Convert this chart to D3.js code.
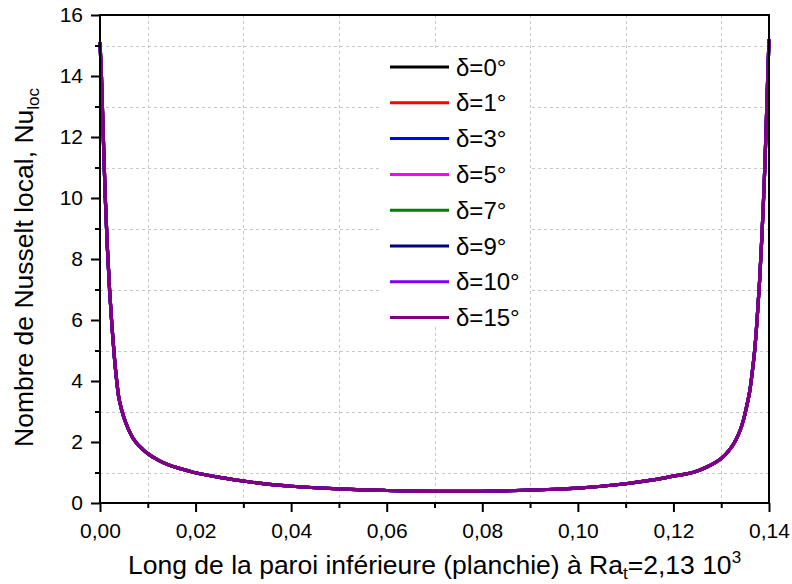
<!DOCTYPE html>
<html>
<head>
<meta charset="utf-8">
<script src="https://cdn.jsdelivr.net/npm/d3@7"></script>
<style>
  body { margin: 0; background: #fff; }
  svg { display: block; font-family: "Liberation Sans", Arial, sans-serif; }
</style>
</head>
<body>
<div id="chart"></div>
<script>
// Positions along the bottom wall (m) and local Nusselt
const xPos = [0, 0.0003, 0.0006, 0.001, 0.0015, 0.002, 0.0025, 0.003, 0.0035, 0.004,
    0.005, 0.006, 0.007, 0.008, 0.009, 0.010, 0.012, 0.014, 0.017, 0.020,
    0.025, 0.030, 0.035, 0.040, 0.045, 0.050, 0.055, 0.060, 0.065, 0.070,
    0.075, 0.080, 0.085, 0.090, 0.095, 0.100, 0.105, 0.110, 0.115, 0.120,
    0.124, 0.127, 0.130, 0.132, 0.133, 0.134, 0.1347, 0.1353, 0.136, 0.1365,
    0.137, 0.1375, 0.138, 0.1385, 0.139, 0.1394, 0.1397, 0.14];

// all eight curves sit on top of each other in the picture
const nuLoc = [15.1, 14.0, 12.5, 10.5, 8.5, 7.0, 5.8, 4.8, 4.0, 3.4,
    2.8, 2.4, 2.1, 1.9, 1.75, 1.62, 1.42, 1.27, 1.12, 0.99,
    0.84, 0.72, 0.62, 0.55, 0.50, 0.46, 0.43, 0.41, 0.39, 0.38,
    0.38, 0.385, 0.40, 0.42, 0.45, 0.49, 0.55, 0.63, 0.74, 0.88,
    1.0, 1.18, 1.46, 1.8, 2.05, 2.4, 2.75, 3.15, 3.7, 4.3,
    5.0, 6.0, 7.2, 8.7, 10.5, 12.3, 13.8, 15.2];

const seriesNames = ["δ=0°", "δ=1°", "δ=3°", "δ=5°", "δ=7°", "δ=9°", "δ=10°", "δ=15°"];
const seriesColors = ["#000000", "#ff0000", "#0000ff", "#ff00ff", "#008000", "#000080", "#8000ff", "#800080"];
const seriesValues = [nuLoc, nuLoc, nuLoc, nuLoc, nuLoc, nuLoc, nuLoc, nuLoc];

const xTicks = [0, 0.02, 0.04, 0.06, 0.08, 0.10, 0.12, 0.14];
const xMinor = [0.01, 0.03, 0.05, 0.07, 0.09, 0.11, 0.13];
const yTicks = [0, 2, 4, 6, 8, 10, 12, 14, 16];
const yMinor = [1, 3, 5, 7, 9, 11, 13, 15];

const svgWidth = 792;
const svgHeight = 584;
const margin = { top: 15, right: 23, bottom: 81, left: 100 };

const svg = d3.select("#chart").append("svg")
    .attr("width", svgWidth)
    .attr("height", svgHeight);

const x = d3.scaleLinear()
    .domain([0, 0.14])
    .range([margin.left, svgWidth - margin.right]);

const y = d3.scaleLinear()
    .domain([0, 16])
    .range([svgHeight - margin.bottom, margin.top]);

// dashed grid on the minor positions
const grid = svg.append("g")
    .attr("stroke", "#c8c8c8")
    .attr("stroke-width", 1)
    .attr("stroke-dasharray", "3,3");

grid.selectAll("line.vx")
    .data(xMinor)
    .join("line")
    .attr("class", "vx")
    .attr("x1", d => Math.round(x(d)) + 0.5)
    .attr("x2", d => Math.round(x(d)) + 0.5)
    .attr("y1", y(16))
    .attr("y2", y(0));

grid.selectAll("line.hy")
    .data(yMinor)
    .join("line")
    .attr("class", "hy")
    .attr("x1", x(0))
    .attr("x2", x(0.14))
    .attr("y1", d => Math.round(y(d)) + 0.5)
    .attr("y2", d => Math.round(y(d)) + 0.5);

// curves
const line = d3.line()
    .x((d, i) => x(xPos[i]))
    .y(d => y(d))
    .curve(d3.curveCatmullRom.alpha(0.5));

svg.append("g")
    .attr("fill", "none")
    .attr("stroke-width", 3.2)
    .attr("stroke-linejoin", "round")
    .selectAll("path")
    .data(seriesValues)
    .join("path")
    .attr("stroke", (d, i) => seriesColors[i])
    .attr("d", line);

// legend
const legend = svg.append("g");
legend.append("rect")
    .attr("x", 380)
    .attr("y", 48)
    .attr("width", 150)
    .attr("height", 276)
    .attr("fill", "white");

const rowY = i => 67 + i * 35.8;

legend.selectAll("line")
    .data(seriesNames)
    .join("line")
    .attr("x1", 390)
    .attr("x2", 449)
    .attr("y1", (d, i) => rowY(i))
    .attr("y2", (d, i) => rowY(i))
    .attr("stroke", (d, i) => seriesColors[i])
    .attr("stroke-width", 3);

legend.selectAll("text")
    .data(seriesNames)
    .join("text")
    .attr("x", 456)
    .attr("y", (d, i) => rowY(i))
    .attr("dy", "0.36em")
    .style("font-size", "24px")
    .text(d => d);

// axes
const fmt = d => d3.format(".2f")(d).replace(".", ",");

const xAxis = g => g
    .attr("transform", `translate(0,${y(0)})`)
    .call(d3.axisBottom(x).tickValues(xTicks).tickFormat(fmt).tickSize(9).tickPadding(11).tickSizeOuter(0))
    .call(g => g.select(".domain").remove());

const xAxisMinor = g => g
    .attr("transform", `translate(0,${y(0)})`)
    .call(d3.axisBottom(x).tickValues(xMinor).tickFormat("").tickSize(5).tickSizeOuter(0))
    .call(g => g.select(".domain").remove());

const yAxis = g => g
    .attr("transform", `translate(${x(0)},0)`)
    .call(d3.axisLeft(y).tickValues(yTicks).tickSize(9).tickPadding(8).tickSizeOuter(0))
    .call(g => g.select(".domain").remove());

const yAxisMinor = g => g
    .attr("transform", `translate(${x(0)},0)`)
    .call(d3.axisLeft(y).tickValues(yMinor).tickFormat("").tickSize(5).tickSizeOuter(0))
    .call(g => g.select(".domain").remove());

svg.append("g").call(xAxis);
svg.append("g").call(xAxisMinor);
svg.append("g").call(yAxis);
svg.append("g").call(yAxisMinor);

svg.selectAll(".tick line")
    .attr("stroke", "black")
    .attr("stroke-width", 2);
svg.selectAll(".tick text")
    .attr("fill", "black")
    .style("font-family", "'Liberation Sans', Arial, sans-serif")
    .style("font-size", "21px");

// frame
svg.append("rect")
    .attr("x", x(0))
    .attr("y", y(16))
    .attr("width", x(0.14) - x(0))
    .attr("height", y(0) - y(16))
    .attr("fill", "none")
    .attr("stroke", "black")
    .attr("stroke-width", 2);

// axis titles
const xTitle = svg.append("text")
    .attr("x", 128)
    .attr("y", 574)
    .style("font-size", "26.5px");
xTitle.append("tspan").text("Long de la paroi inférieure (planchie) à Ra");
xTitle.append("tspan").attr("dy", 5).style("font-size", "17px").text("t");
xTitle.append("tspan").attr("dy", -5).text("=2,13 10");
xTitle.append("tspan").attr("dy", -11).style("font-size", "17px").text("3");

const yTitle = svg.append("text")
    .attr("transform", "translate(33,447) rotate(-90)")
    .style("font-size", "26.5px");
yTitle.append("tspan").text("Nombre de Nusselt local, Nu");
yTitle.append("tspan").attr("dy", 6).style("font-size", "17px").text("loc");
</script>
</body>
</html>
